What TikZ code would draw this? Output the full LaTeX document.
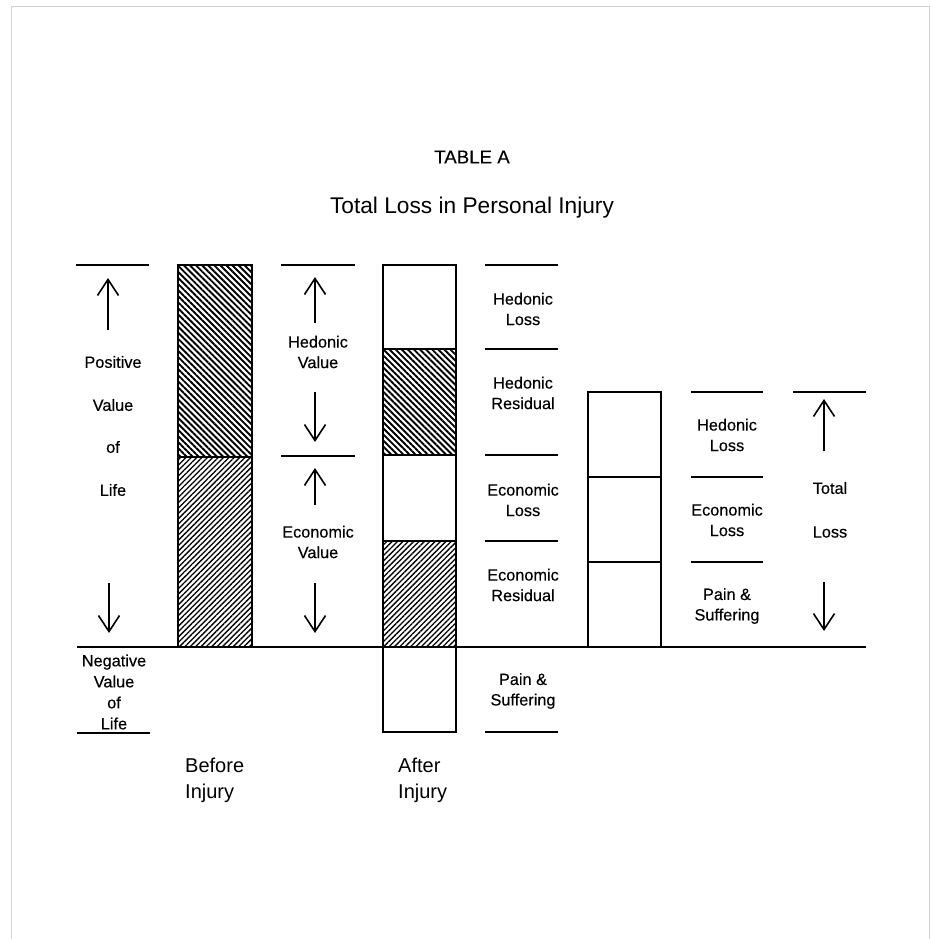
\documentclass[tikz,border=0pt]{standalone}
\usepackage{fontspec}
\setmainfont{Liberation Sans}
\newfontfamily\lblfont{Liberation Sans}[FakeBold=0.3]
\usetikzlibrary{arrows.meta,patterns.meta}
\tikzset{
  lbl/.style={font=\lblfont\fontsize{16.3}{20.5}\selectfont, align=center, inner sep=0pt},
  big/.style={font=\fontsize{20}{26}\selectfont, align=left, inner sep=0pt},
  rule/.style={line width=1.8pt},
  bar/.style={draw, line width=1.7pt},
  hedhatch/.style={bar, pattern={Lines[angle=-45,distance=4.3pt,line width=1.9pt]}},
  ecohatch/.style={bar, pattern={Lines[angle=45,distance=3.8pt,line width=1.3pt]}},
  arr/.style={-{Straight Barb[length=16pt,width=21pt]}, line width=1.6pt},
  frame/.style={gray!35, line width=0.8pt}
}
\begin{document}
\begin{tikzpicture}[x=1pt,y=-1pt]
\useasboundingbox (0,0) rectangle (930,939);
\fill[white] (0,0) rectangle (930,939);
% faint scan frame
\draw[frame] (11,939) -- (11,6) -- (929,6) -- (929,939);

% titles
\node[font=\lblfont\fontsize{18.7}{22}\selectfont, inner sep=0pt] (tA) at (472,157) {TABLE A};
\node[font=\fontsize{22.7}{27}\selectfont, inner sep=0pt] (tT) at (472,208) {Total Loss in Personal Injury};

% baseline
\coordinate (bl0) at (77,647); \coordinate (bl1) at (866,647);
\draw[rule] (bl0) -- (bl1);

% ---- left column
\coordinate (l0a) at (76,265); \coordinate (l0b) at (149,265);
\draw[rule] (l0a) -- (l0b);
\coordinate (la1) at (108,330); \coordinate (la2) at (108,278);
\draw[arr] (la1) -- (la2);
\node[lbl] (pos) at (113,362) {Positive};
\node[lbl] (val) at (113,405) {Value};
\node[lbl] (of) at (113,447) {of};
\node[lbl] (life) at (113,490) {Life};
\coordinate (lb1) at (109,583); \coordinate (lb2) at (109,633);
\draw[arr] (lb1) -- (lb2);
\node[lbl, font=\lblfont\fontsize{16.3}{21}\selectfont] (neg) at (114,692) {Negative\\Value\\of\\Life};
\coordinate (l1a) at (77,733); \coordinate (l1b) at (150,733);
\draw[rule] (l1a) -- (l1b);

% ---- bar 1 (before)
\path[hedhatch] (178,265) rectangle (252,457);
\path[ecohatch] (178,457) rectangle (252,647);
\node[big, anchor=west] (bef) at (185,780) {Before\\Injury};

% ---- value column
\coordinate (v0a) at (281,265); \coordinate (v0b) at (355,265);
\draw[rule] (v0a) -- (v0b);
\draw[arr] (315,323) coordinate (va1) -- (315,277) coordinate (va2);
\node[lbl] (hv) at (318,352) {Hedonic\\Value};
\draw[arr] (315,392) coordinate (va3) -- (315,442) coordinate (va4);
\coordinate (v1a) at (281,456); \coordinate (v1b) at (355,456);
\draw[rule] (v1a) -- (v1b);
\draw[arr] (315,505) coordinate (va5) -- (315,468) coordinate (va6);
\node[lbl] (ev) at (318,542) {Economic\\Value};
\draw[arr] (315,583) coordinate (va7) -- (315,633) coordinate (va8);

% ---- bar 2 (after)
\path[bar] (383,265) rectangle (456,349);
\path[hedhatch] (383,349) rectangle (456,455);
\path[bar] (383,455) rectangle (456,541);
\path[ecohatch] (383,541) rectangle (456,647);
\path[bar] (383,647) rectangle (456,732);
\node[big, anchor=west] (aft) at (398,780) {After\\Injury};

% ---- after labels
\foreach \yy/\nm in {265/a0,349/a1,455/a2,541/a3,732/a4}{
  \coordinate (\nm l) at (485,\yy); \coordinate (\nm r) at (558,\yy);
  \draw[rule] (\nm l) -- (\nm r);
}
\node[lbl] (hl) at (523,309) {Hedonic\\Loss};
\node[lbl] (hr) at (523,393) {Hedonic\\Residual};
\node[lbl] (el) at (523,500) {Economic\\Loss};
\node[lbl] (er) at (523,585) {Economic\\Residual};
\node[lbl] (ps) at (523,691) {Pain \&\\Suffering};

% ---- bar 3 (total)
\path[bar] (588,392) rectangle (661,477);
\path[bar] (588,477) rectangle (661,562);
\path[bar] (588,562) rectangle (661,647);

\foreach \yy/\nm in {392/b0,477/b1,562/b2}{
  \coordinate (\nm l) at (691,\yy); \coordinate (\nm r) at (763,\yy);
  \draw[rule] (\nm l) -- (\nm r);
}
\node[lbl] (hl2) at (727,435) {Hedonic\\Loss};
\node[lbl] (el2) at (727,520) {Economic\\Loss};
\node[lbl] (ps2) at (727,606) {Pain \&\\Suffering};

% ---- total loss column
\coordinate (t0a) at (793,392); \coordinate (t0b) at (866,392);
\draw[rule] (t0a) -- (t0b);
\draw[arr] (824,451) coordinate (ta1) -- (824,399) coordinate (ta2);
\node[lbl] (tot) at (830,488) {Total};
\node[lbl] (tl) at (830,532) {Loss};
\draw[arr] (824,582) coordinate (ta3) -- (824,631) coordinate (ta4);
\end{tikzpicture}
\end{document}
